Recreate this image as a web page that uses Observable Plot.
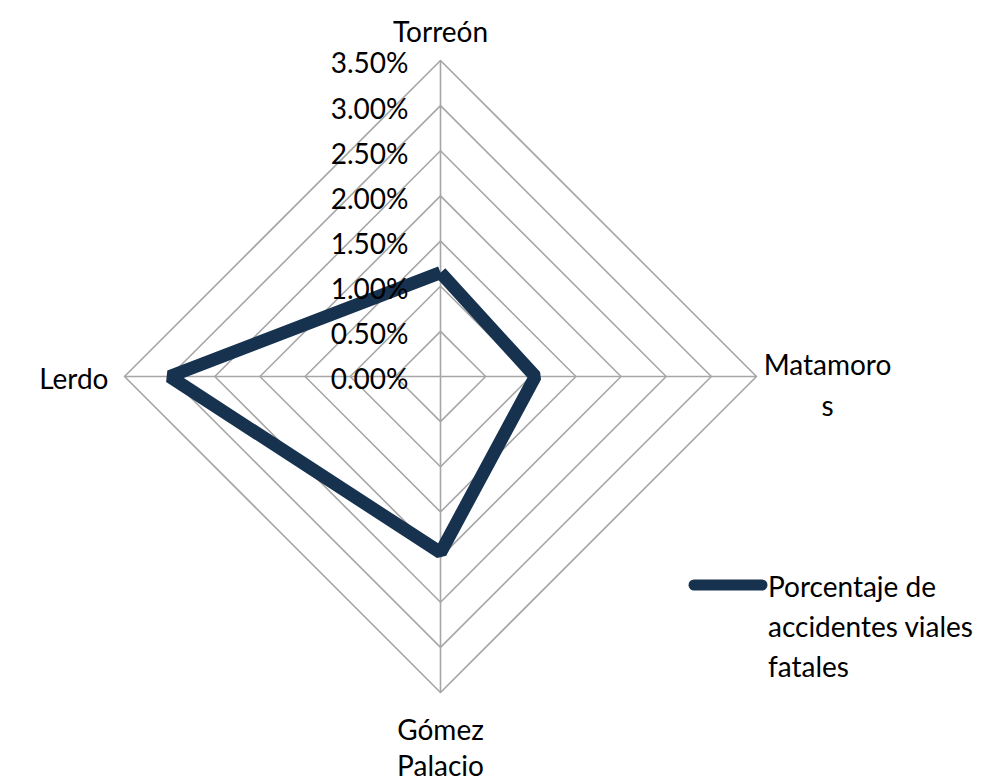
<!DOCTYPE html>
<html>
<head>
<meta charset="utf-8">
<script src="https://cdn.jsdelivr.net/npm/d3@7"></script>
<script src="https://cdn.jsdelivr.net/npm/@observablehq/plot@0.6"></script>
<style>
  html, body { margin: 0; padding: 0; background: #fff; }
  #wrap { position: relative; width: 1002px; height: 782px; font-family: Lato, "Open Sans", sans-serif; }
  #legend { position: absolute; left: 688px; top: 566px; display: flex; align-items: flex-start; font-size: 28px; line-height: 40px; color: #000; }
  #legend svg { margin-top: 11px; }
</style>
</head>
<body>
<div id="wrap"></div>
<script>
const categories = ["Torreón", "Matamoros", "Gómez Palacio", "Lerdo"];
const categoryLabels = ["Torreón", "Matamoro\ns", "Gómez\nPalacio", "Lerdo"];
const values = [1.15, 1.05, 1.95, 3.0];
const ticks = [0, 0.5, 1, 1.5, 2, 2.5, 3, 3.5];
const tickLabels = ["0.00%", "0.50%", "1.00%", "1.50%", "2.00%", "2.50%", "3.00%", "3.50%"];
const seriesName = "Porcentaje de accidentes viales fatales";
const maxValue = 3.5;

// angles: Torreón up, Matamoros right, Gómez Palacio down, Lerdo left
const angle = i => Math.PI / 2 - i * Math.PI / 2;
const px = (v, i) => v * Math.cos(angle(i));
const py = (v, i) => v * Math.sin(angle(i));

const rings = [];
ticks.filter(t => t > 0).forEach(t => {
  for (let i = 0; i <= categories.length; i++) {
    const k = i % categories.length;
    rings.push({ring: t, x: px(t, k), y: py(t, k)});
  }
});
const spokes = categories.map((c, i) => ({x1: 0, y1: 0, x2: px(maxValue, i), y2: py(maxValue, i)}));
const series = values.concat([values[0]]).map((v, j) => {
  const i = j % categories.length;
  return {x: px(v, i), y: py(v, i)};
});
const tickData = ticks.map((t, i) => ({v: t, label: tickLabels[i]}));

const k = 316 / maxValue; // pixels per unit
const W = 1002, H = 782, cx = 440, cy = 376;
const FS = 28;

const chart = Plot.plot({
  width: W, height: H,
  margin: 0,
  style: {fontFamily: "Lato, 'Open Sans', sans-serif", background: "#fff"},
  x: {domain: [-cx / k, (W - cx) / k], axis: null},
  y: {domain: [-(H - cy) / k, cy / k], axis: null},
  marks: [
    Plot.line(rings, {x: "x", y: "y", z: "ring", stroke: "#a6a6a6", strokeWidth: 1.6}),
    Plot.link(spokes, {x1: "x1", y1: "y1", x2: "x2", y2: "y2", stroke: "#a6a6a6", strokeWidth: 1.6}),
    Plot.line(series, {x: "x", y: "y", stroke: "#17324f", strokeWidth: 13, strokeLinejoin: "miter", strokeLinecap: "butt"}),
    Plot.text(tickData, {x: 0, y: "v", text: "label", textAnchor: "end", dx: -32, dy: 4, fontSize: FS, fill: "#000"}),
    Plot.text([0], {x: px(maxValue, 0), y: py(maxValue, 0), text: [categoryLabels[0]], dy: -27, fontSize: FS, fill: "#000"}),
    Plot.text([0], {x: px(maxValue, 1), y: py(maxValue, 1), text: [categoryLabels[1]], dx: 71, dy: 6, lineHeight: 1.45, fontSize: FS, fill: "#000"}),
    Plot.text([0], {x: px(maxValue, 2), y: py(maxValue, 2), text: [categoryLabels[2]], dy: 54, lineHeight: 1.3, fontSize: FS, fill: "#000"}),
    Plot.text([0], {x: px(maxValue, 3), y: py(maxValue, 3), text: [categoryLabels[3]], dx: -16, dy: 4, textAnchor: "end", fontSize: FS, fill: "#000"})
  ]
});

const wrap = document.getElementById("wrap");
wrap.appendChild(chart);
const legend = document.createElement("div");
legend.id = "legend";
legend.innerHTML = `<svg width="80" height="16"><line x1="6" y1="8" x2="74" y2="8" stroke="#17324f" stroke-width="11" stroke-linecap="round"/></svg><div>${seriesName.replace("de accidentes", "de<br>accidentes").replace("viales fatales", "viales<br>fatales")}</div>`;
wrap.appendChild(legend);
</script>
</body>
</html>
